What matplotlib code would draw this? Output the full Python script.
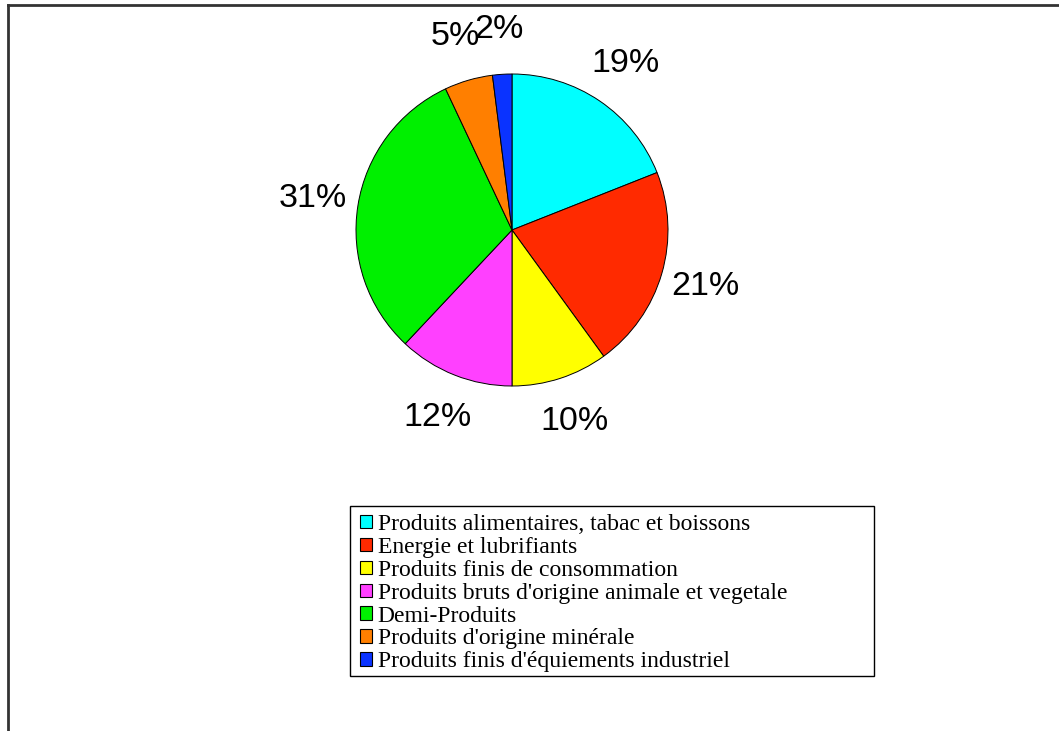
import numpy as np
import matplotlib
matplotlib.use("Agg")
import matplotlib.pyplot as plt
from matplotlib.patches import Rectangle, Patch
from matplotlib.lines import Line2D

# ── data ──────────────────────────────────────────────────────────────
categories = [
    "Produits alimentaires, tabac et boissons",
    "Energie et lubrifiants",
    "Produits finis de consommation",
    "Produits bruts d'origine animale et vegetale",
    "Demi-Produits",
    "Produits d'origine minérale",
    "Produits finis d'équiements industriel",
]
shares = [19, 21, 10, 12, 31, 5, 2]
colors = ["#00FFFF", "#FF2A00", "#FFFF00", "#FF40FF", "#00F000", "#FF7F00", "#0A33FF"]

W, H = 1059, 731
fig = plt.figure(figsize=(W / 100, H / 100), dpi=100)

# page frame (only the top and left edges show)
fig.add_artist(Line2D([8 / W, 1], [1 - 5 / H, 1 - 5 / H], color="#333333", lw=2))
fig.add_artist(Line2D([8 / W, 8 / W], [0, 1 - 5 / H], color="#333333", lw=2))

# ── pie ───────────────────────────────────────────────────────────────
cx, cy, R = 512, 230, 156
ax = fig.add_axes([(cx - R) / W, (H - cy - R) / H, 2 * R / W, 2 * R / H])
wedges, _ = ax.pie(shares, colors=colors, startangle=90, counterclock=False,
                   radius=1, wedgeprops=dict(edgecolor="black", linewidth=0.7))
ax.set_xlim(-1, 1); ax.set_ylim(-1, 1)
ax.set_aspect("auto")
ax.axis("off")

# percentage labels outside each wedge
total = float(sum(shares))
cum = np.cumsum([0] + shares[:-1])
for start, v in zip(cum, shares):
    mid = np.deg2rad(90 - 360 * (start + v / 2) / total)
    d = 1.29
    ax.text(d * np.cos(mid), d * np.sin(mid), f"{v}%", ha="center", va="center",
            fontsize=24.5, family="Liberation Sans", clip_on=False)

# ── legend ────────────────────────────────────────────────────────────
lx0, ly0, lx1, ly1 = 350, 506, 874, 676
fig.add_artist(Rectangle((lx0 / W, 1 - ly1 / H), (lx1 - lx0) / W, (ly1 - ly0) / H,
                         transform=fig.transFigure, fill=False,
                         edgecolor="black", linewidth=1))
handles = [Patch(facecolor=c, edgecolor="black", linewidth=0.8) for c in colors]
fig.legend(handles, categories, loc="upper left",
           bbox_to_anchor=(360 / W, 1 - 514 / H),
           frameon=False, prop=dict(family="Liberation Serif", size=17),
           handlelength=0.5, handleheight=0.5, handletextpad=0.25,
           labelspacing=0.08, borderpad=0, borderaxespad=0)

fig.savefig("out.png", dpi=100, facecolor="white")
